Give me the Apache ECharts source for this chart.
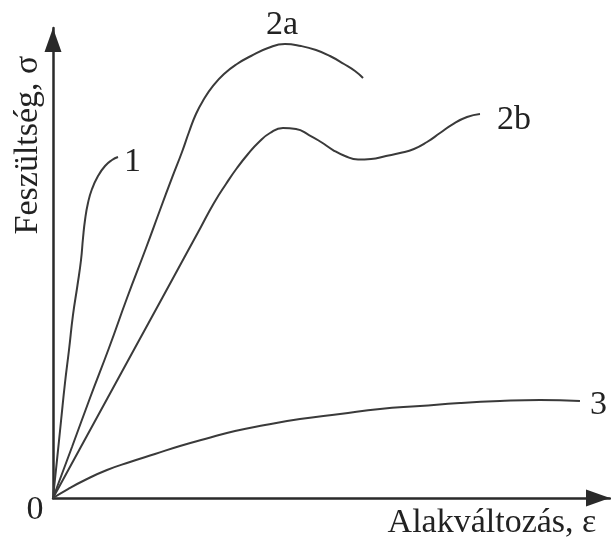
<!DOCTYPE html>
<html>
<head>
<meta charset="utf-8">
<script src="https://cdn.jsdelivr.net/npm/echarts@6/dist/echarts.min.js"></script>
<style>
html,body{margin:0;padding:0;background:#fff;}
#chart{width:611px;height:543px;}
</style>
</head>
<body>
<div id="chart"></div>
<script>
// Strain (arbitrary units 0..100) and stress (arbitrary units 0..100)
const curve1 = [[0,0],[0.72,8.09],[1.44,16.38],[2.15,24.47],[2.87,31.49],[3.59,38.94],[4.40,45.32],[5.03,50.64],[5.39,55.32],[5.75,59.15],[6.28,62.77],[7.00,65.74],[8.08,68.51],[9.34,70.64],[10.59,71.91],[11.67,72.55]];
const curve2a = [[0,0],[3.41,10.85],[6.64,21.28],[10.05,31.91],[13.29,42.55],[16.70,53.19],[19.21,61.28],[21.36,68.09],[23.16,73.62],[24.42,77.87],[25.67,81.70],[27.11,84.89],[28.73,87.66],[30.70,90.21],[33.03,92.34],[35.55,94.04],[38.60,95.74],[41.65,96.60],[44.52,96.17],[47.22,95.32],[49.73,94.04],[52.24,92.34],[54.22,90.85],[55.66,89.36]];
const curve2b = [[0,0],[4.90,10.64],[9.80,21.28],[14.70,31.91],[19.61,42.55],[23.52,51.06],[26.46,57.45],[28.90,62.77],[31.06,66.81],[33.03,70.21],[35.01,73.19],[36.98,75.74],[38.96,77.66],[41.29,78.72],[43.63,78.51],[45.96,77.23],[48.11,75.74],[50.27,74.04],[52.42,72.77],[54.76,72.02],[57.09,72.13],[59.78,72.77],[62.30,73.40],[64.81,74.26],[67.15,75.74],[69.48,77.66],[71.81,79.57],[74.33,81.06],[76.66,81.70]];
const curve3 = [[0,0],[2.69,1.91],[5.75,3.83],[9.69,5.96],[13.82,7.66],[18.31,9.36],[22.80,11.06],[27.29,12.55],[32.68,14.26],[38.06,15.53],[44.34,16.81],[51.53,17.87],[58.71,18.94],[65.89,19.57],[73.07,20.21],[80.25,20.64],[87.43,20.85],[94.61,20.64]];
const curveNames = ['1','2a','2b','3'];
const xAxisTitle = 'Alakváltozás, ε';
const yAxisTitle = 'Feszültség, σ';
const originLabel = '0';

const FONT = '"Liberation Serif","Times New Roman","DejaVu Serif",serif';
const TEXT_COLOR = '#222';
const LINE_COLOR = '#3a3a3a';

const chart = echarts.init(document.getElementById('chart'), null, {renderer:'canvas'});

function baseSeries(name, data){
  return {
    name: name,
    type: 'line',
    data: data,
    smooth: 0.5,
    showSymbol: false,
    symbol: 'none',
    lineStyle: {color: LINE_COLOR, width: 2},
    silent: true,
    animation: false
  };
}

const s1 = baseSeries(curveNames[0], curve1);
s1.endLabel = {show:true, formatter: curveNames[0], fontFamily: FONT, fontSize: 34, color: TEXT_COLOR, distance: 6, offset:[0,5]};
const s2a = baseSeries(curveNames[1], curve2a);
s2a.markPoint = {
  symbol: 'circle', symbolSize: 0,
  data: [{type:'max'}],
  label: {show:true, position:'top', formatter: curveNames[1], fontFamily: FONT, fontSize: 34, color: TEXT_COLOR, distance: 2, offset:[-3,0]},
  animation:false
};
const s2b = baseSeries(curveNames[2], curve2b);
s2b.endLabel = {show:true, formatter: curveNames[2], fontFamily: FONT, fontSize: 34, color: TEXT_COLOR, distance: 17, offset:[0,6]};
const s3 = baseSeries(curveNames[3], curve3);
s3.endLabel = {show:true, formatter: curveNames[3], fontFamily: FONT, fontSize: 34, color: TEXT_COLOR, distance: 10, offset:[0,4]};

const axisCommon = {
  type: 'value',
  min: 0, max: 100,
  axisTick: {show:false},
  axisLabel: {show:false},
  splitLine: {show:false},
  axisLine: {
    show: true,
    onZero: false,
    symbol: ['none','triangle'],
    symbolSize: [17, 24],
    symbolOffset: [0, -12],
    lineStyle: {color: '#2a2a2a', width: 2.5}
  }
};

chart.setOption({
  backgroundColor: '#fff',
  animation: false,
  grid: {left: 53, top: 28, width: 557, height: 470, containLabel: false},
  xAxis: Object.assign({}, axisCommon),
  yAxis: Object.assign({}, axisCommon),
  series: [s1, s2a, s2b, s3],
  graphic: [
    {type:'text', x: 492, y: 523, style:{text: xAxisTitle, font: '34px ' + FONT, fill: TEXT_COLOR, align:'center', verticalAlign:'middle'}},
    {type:'text', x: 28, y: 145, rotation: Math.PI/2, style:{text: yAxisTitle, font: '34px ' + FONT, fill: TEXT_COLOR, align:'center', verticalAlign:'middle'}},
    {type:'text', x: 35, y: 510, style:{text: originLabel, font: '34px ' + FONT, fill: TEXT_COLOR, align:'center', verticalAlign:'middle'}}
  ]
});
</script>
</body>
</html>
